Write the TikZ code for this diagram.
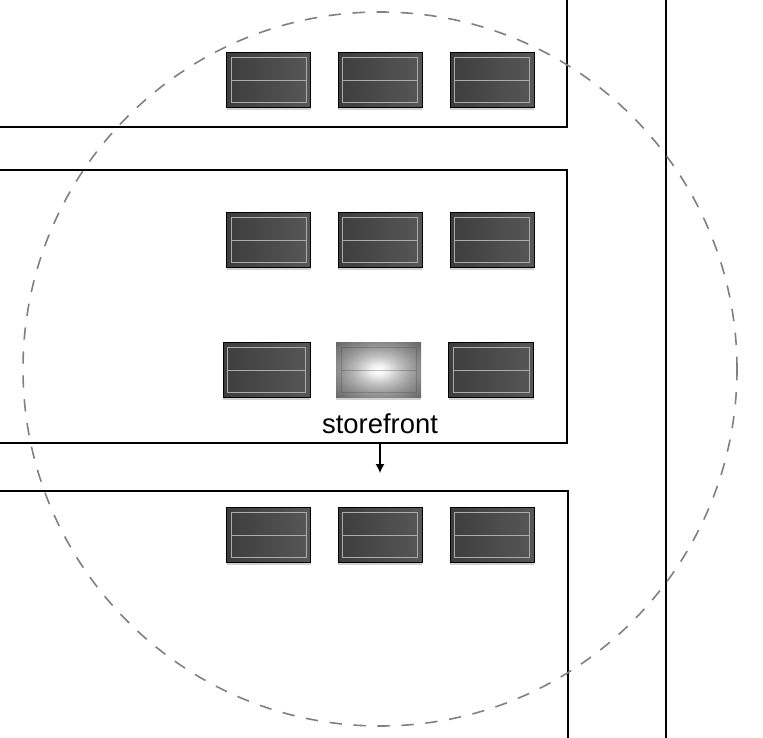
\documentclass[tikz,border=0pt]{standalone}
\usepackage{fontspec}
\setmainfont{Liberation Sans}
\usepackage{xcolor}
\usetikzlibrary{calc,positioning,arrows.meta,shadows}
\pgfdeclareradialshading{rackglow}{\pgfpoint{0bp}{0bp}}{%
  color(0bp)=(white); color(4bp)=(white!96!black); color(13bp)=(black!25);
  color(20bp)=(black!38); color(25bp)=(black!46); color(35bp)=(black!60); color(50bp)=(black!60)}
\tikzset{
  wall/.style={line width=1.3pt, black},
  rackbase/.style={rectangle, minimum height=55pt, minimum width=84pt, inner sep=0pt,
    drop shadow={shadow xshift=0pt, shadow yshift=-2.5pt, opacity=0.18, fill=black}},
  rack/.style={rackbase, draw=black, line width=0.8pt, left color=black!76, right color=black!66,
    path picture={
      \draw[black!33, line width=0.8pt]
        ($(path picture bounding box.south west)+(4.5,-5)$) rectangle
        ($(path picture bounding box.north east)+(-4.5,5)$);
      \draw[black!33, line width=0.8pt]
        ($(path picture bounding box.west)+(4.5,0)$) -- ($(path picture bounding box.east)+(-4.5,0)$);
    }},
  activerack/.style={rackbase, shading=rackglow,
    path picture={
      \draw[black!70, opacity=0.35, line width=0.7pt]
        ($(path picture bounding box.south west)+(5,-5)$) rectangle
        ($(path picture bounding box.north east)+(-5,5)$);
      \draw[black!70, opacity=0.35, line width=0.7pt]
        ($(path picture bounding box.west)+(5,0)$) -- ($(path picture bounding box.east)+(-5,0)$);
    }},
  reach/.style={dash pattern=on 12.3pt off 11.7pt, line width=1.6pt, black!50},
}
\begin{document}
\begin{tikzpicture}[x=1pt,y=-1pt]
\useasboundingbox (0,0) rectangle (763,738);
% aisles and outer wall
\draw[wall] (567,0) -- (567,127) -- (0,127);
\draw[wall] (0,170) -- (567,170) -- (567,443) -- (0,443);
\draw[wall] (0,491) -- (568,491) -- (568,738);
\draw[wall] (666,0) -- (666,738);
% racks on the plain rows
\foreach \rowname/\ypos in {a/80, b/240, d/535}{
  \foreach \colname/\xpos in {l/268.7, m/380.2, r/492.2}{
    \node[rack] (\rowname\colname) at (\xpos,\ypos) {};
  }
}
% row with the lit rack
\node[rack, minimum width=87pt] (cl) at (266.8,370) {};
\node[activerack, minimum width=85pt] (cm) at (378.5,370) {};
\node[rack, minimum width=85pt] (cr) at (491.3,370) {};
% label and move direction
\node[font=\fontsize{27.4}{32}\selectfont, below=16pt of cm.south, anchor=north, xshift=1.5pt, inner sep=0pt] (storefront) {storefront};
\coordinate (movefrom) at (380,443);
\coordinate (moveto) at (380,473);
\draw[-{Latex[length=9pt,width=9pt]}, line width=1.2pt] (movefrom) -- (moveto);
% reach circle
\node[reach, draw, circle, minimum size=714pt, inner sep=0pt] (reachcircle) at (380,369) {};
\end{tikzpicture}
\end{document}
